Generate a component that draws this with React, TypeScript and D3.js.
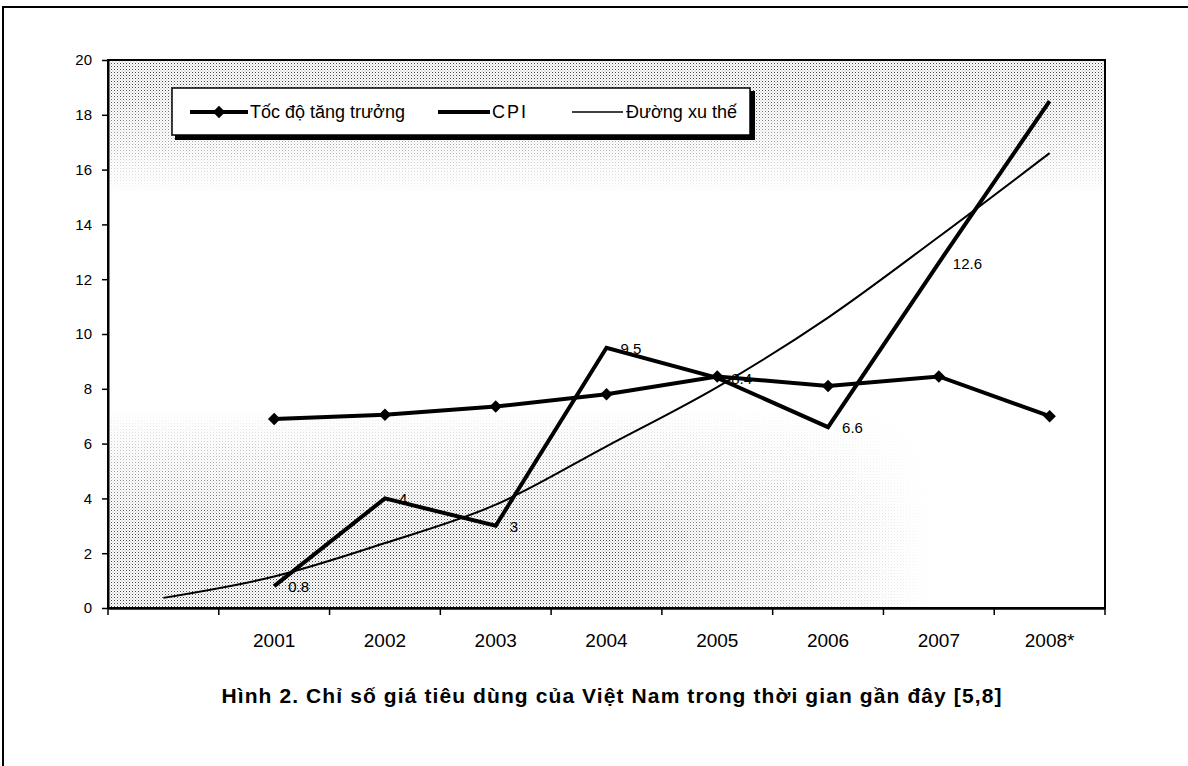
import * as d3 from "d3";
import { useEffect, useRef } from "react";

// ---- data ----
const categories = ["", "2001", "2002", "2003", "2004", "2005", "2006", "2007", "2008*"];
const growth = [null, 6.9, 7.05, 7.35, 7.8, 8.45, 8.1, 8.45, 7.0];
const cpi = [null, 0.8, 4, 3, 9.5, 8.4, 6.6, 12.6, 18.5];
const cpiLabels = ["", "0.8", "4", "3", "9.5", "8.4", "6.6", "12.6", ""];
const trend = [0.37, 1.15, 2.37, 3.77, 5.9, 8.06, 10.6, 13.55, 16.6];
const yTicks = [0, 2, 4, 6, 8, 10, 12, 14, 16, 18, 20];
const legendNames = ["Tốc độ tăng trưởng", "CPI", "Đường xu thế"];
const title = "Hình 2. Chỉ số giá tiêu dùng của Việt Nam trong thời gian gần đây [5,8]";

const FONT = "'Liberation Sans', Arial, sans-serif";

export default function App() {
  const ref = useRef<SVGSVGElement | null>(null);

  useEffect(() => {
    const width = 1188;
    const height = 766;
    const plot = { left: 108, top: 60, right: 1105, bottom: 608 };

    const svg = d3.select(ref.current).attr("viewBox", `0 0 ${width} ${height}`);
    svg.selectAll("*").remove();

    svg.append("rect").attr("width", width).attr("height", height).attr("fill", "#fff");

    // outer frame of the figure
    svg.append("rect")
      .attr("x", 3).attr("y", 7)
      .attr("width", width + 20).attr("height", height + 20)
      .attr("fill", "none").attr("stroke", "#000").attr("stroke-width", 2);

    // ---- scales ----
    const x = d3.scaleBand<string>().domain(categories).range([plot.left, plot.right]).padding(0);
    const cx = (i: number) => (x(categories[i]) as number) + x.bandwidth() / 2;
    const y = d3.scaleLinear().domain([0, 20]).range([plot.bottom, plot.top]);

    // ---- halftone texture of the plot area (dots + white fades on top) ----
    const defs = svg.append("defs");
    const pat = defs.append("pattern")
      .attr("id", "dots").attr("width", 3).attr("height", 3)
      .attr("patternUnits", "userSpaceOnUse");
    pat.append("rect").attr("x", 0).attr("y", 0).attr("width", 1).attr("height", 1).attr("fill", "#444");
    pat.append("rect").attr("x", 1.5).attr("y", 1.5).attr("width", 1).attr("height", 1).attr("fill", "#999");

    // white fade helper: gradient in user space from (x1,y1) transparent to (x2,y2) opaque
    const fade = (id: string, x1: number, y1: number, x2: number, y2: number) => {
      const g = defs.append("linearGradient").attr("id", id)
        .attr("gradientUnits", "userSpaceOnUse")
        .attr("x1", x1).attr("y1", y1).attr("x2", x2).attr("y2", y2);
      g.append("stop").attr("offset", "0%").attr("stop-color", "#fff").attr("stop-opacity", 0);
      g.append("stop").attr("offset", "100%").attr("stop-color", "#fff").attr("stop-opacity", 1);
    };
    fade("fTop", 0, 85, 0, 195);
    fade("fBotV", 0, 530, 0, 410);
    fade("fBotH", 620, 0, 930, 0);

    const tex = svg.append("g");
    tex.append("rect")
      .attr("x", plot.left).attr("y", plot.top)
      .attr("width", plot.right - plot.left).attr("height", 140)
      .attr("fill", "url(#dots)");
    tex.append("rect")
      .attr("x", plot.left).attr("y", plot.top)
      .attr("width", plot.right - plot.left).attr("height", 140)
      .attr("fill", "url(#fTop)");
    tex.append("rect")
      .attr("x", plot.left).attr("y", 405)
      .attr("width", 830).attr("height", plot.bottom - 405)
      .attr("fill", "url(#dots)");
    tex.append("rect")
      .attr("x", plot.left).attr("y", 405)
      .attr("width", 830).attr("height", plot.bottom - 405)
      .attr("fill", "url(#fBotV)");
    tex.append("rect")
      .attr("x", plot.left).attr("y", 405)
      .attr("width", 830).attr("height", plot.bottom - 405)
      .attr("fill", "url(#fBotH)");

    // plot border
    svg.append("rect")
      .attr("x", plot.left).attr("y", plot.top)
      .attr("width", plot.right - plot.left).attr("height", plot.bottom - plot.top)
      .attr("fill", "none").attr("stroke", "#000").attr("stroke-width", 2);

    // ---- y axis ----
    const yAxis = svg.append("g")
      .attr("transform", `translate(${plot.left},0)`)
      .call(d3.axisLeft(y).tickValues(yTicks).tickSize(6).tickSizeOuter(0).tickPadding(10));
    yAxis.select(".domain").attr("stroke-width", 2);
    yAxis.selectAll("line").attr("stroke-width", 1.5);
    yAxis.selectAll("text").attr("font-family", FONT).attr("font-size", 15).attr("fill", "#000");

    // ---- x axis ----
    const xAxis = svg.append("g")
      .attr("transform", `translate(0,${plot.bottom})`)
      .call(d3.axisBottom(x).tickSize(0).tickSizeOuter(0).tickPadding(26));
    xAxis.select(".domain").attr("stroke-width", 2.5);
    xAxis.selectAll("text").attr("font-family", FONT).attr("font-size", 19).attr("fill", "#000");
    // ticks between categories
    const edges = categories.map((c) => x(c) as number).concat([plot.right]);
    xAxis.selectAll("line.edge")
      .data(edges)
      .join("line")
      .attr("class", "edge")
      .attr("x1", (d) => d).attr("x2", (d) => d)
      .attr("y1", 0).attr("y2", 7)
      .attr("stroke", "#000").attr("stroke-width", 1.5);

    // ---- lines ----
    const idx = categories.map((_, i) => i);

    const trendLine = d3.line<number>()
      .x((i) => cx(i))
      .y((i) => y(trend[i]))
      .curve(d3.curveMonotoneX);
    svg.append("path")
      .datum(idx)
      .attr("d", trendLine)
      .attr("fill", "none").attr("stroke", "#000").attr("stroke-width", 2);

    const cpiLine = d3.line<number>()
      .defined((i) => cpi[i] != null)
      .x((i) => cx(i))
      .y((i) => y(cpi[i] as number));
    svg.append("path")
      .datum(idx)
      .attr("d", cpiLine)
      .attr("fill", "none").attr("stroke", "#000").attr("stroke-width", 4)
      .attr("stroke-linejoin", "miter");

    const growthLine = d3.line<number>()
      .defined((i) => growth[i] != null)
      .x((i) => cx(i))
      .y((i) => y(growth[i] as number));
    svg.append("path")
      .datum(idx)
      .attr("d", growthLine)
      .attr("fill", "none").attr("stroke", "#000").attr("stroke-width", 4);

    const diamond = d3.symbol().type(d3.symbolSquare).size(78);
    svg.append("g")
      .selectAll("path")
      .data(idx.filter((i) => growth[i] != null))
      .join("path")
      .attr("d", diamond)
      .attr("transform", (i) => `translate(${cx(i)},${y(growth[i] as number)}) rotate(45)`)
      .attr("fill", "#000");

    // CPI value labels
    svg.append("g")
      .selectAll("text")
      .data(idx.filter((i) => cpiLabels[i] !== ""))
      .join("text")
      .attr("x", (i) => cx(i) + 14)
      .attr("y", (i) => y(cpi[i] as number) + 6)
      .attr("font-family", FONT).attr("font-size", 15).attr("fill", "#000")
      .text((i) => cpiLabels[i]);

    // ---- legend ----
    const lg = svg.append("g");
    lg.append("rect")
      .attr("x", 175).attr("y", 91).attr("width", 580).attr("height", 49)
      .attr("fill", "#000");
    lg.append("rect")
      .attr("x", 172).attr("y", 88).attr("width", 578).attr("height", 47)
      .attr("fill", "#fff").attr("stroke", "#000").attr("stroke-width", 1.5);

    const items = [
      { x1: 190, x2: 248, tx: 250, w: 4, marker: true },
      { x1: 438, x2: 490, tx: 492, w: 4, marker: false },
      { x1: 572, x2: 623, tx: 626, w: 1.5, marker: false },
    ];
    items.forEach((it, i) => {
      lg.append("line")
        .attr("x1", it.x1).attr("x2", it.x2).attr("y1", 112).attr("y2", 112)
        .attr("stroke", "#000").attr("stroke-width", it.w);
      if (it.marker) {
        lg.append("path")
          .attr("d", diamond)
          .attr("transform", `translate(${(it.x1 + it.x2) / 2},112) rotate(45)`)
          .attr("fill", "#000");
      }
      lg.append("text")
        .attr("x", it.tx).attr("y", 118)
        .attr("font-family", FONT).attr("font-size", 18).attr("fill", "#000")
        .attr("letter-spacing", i === 1 ? 2 : 0)
        .text(legendNames[i]);
    });

    // ---- title ----
    svg.append("text")
      .attr("x", 612).attr("y", 703)
      .attr("text-anchor", "middle")
      .attr("font-family", FONT).attr("font-size", 21).attr("font-weight", 700)
      .attr("letter-spacing", 1.1)
      .attr("fill", "#000")
      .text(title);
  }, []);

  return (
    <svg
      ref={ref}
      width={1188}
      height={766}
      style={{ position: "absolute", left: 0, top: 0, display: "block" }}
    />
  );
}
